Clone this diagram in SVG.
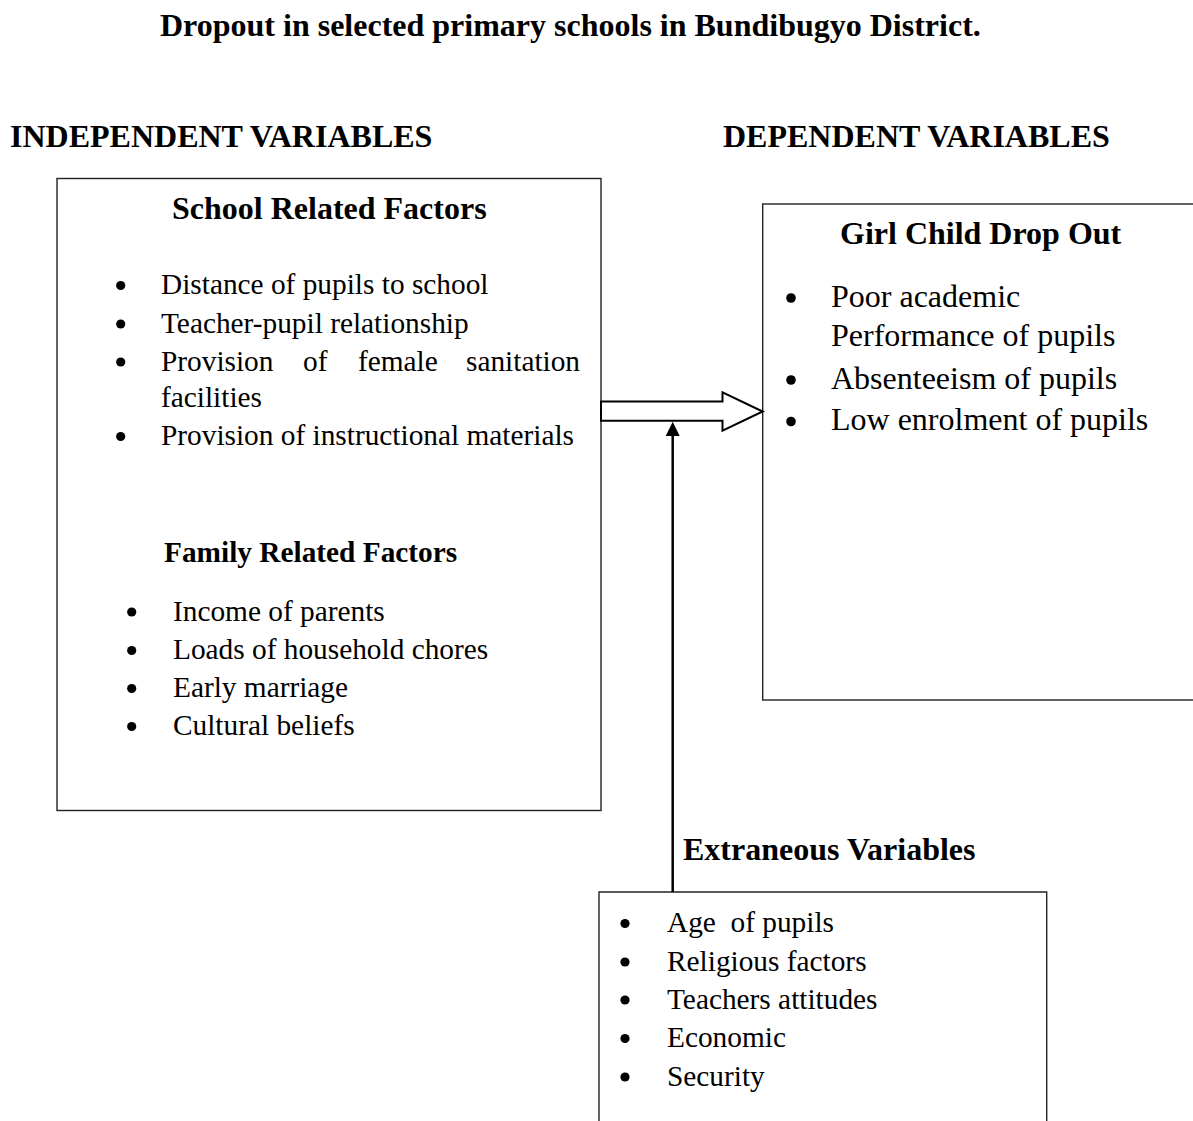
<svg xmlns="http://www.w3.org/2000/svg" width="1193" height="1121" viewBox="0 0 1193 1121">
<style>
text{font-family:"Liberation Serif","Times New Roman",serif;fill:#000}
.h{font-weight:bold;font-size:32px}
.h2{font-weight:bold;font-size:29.33px}
.li{font-size:29.33px}
.lg{font-size:32px}
.box{fill:#fff;stroke:#222;stroke-width:1.4}
.dot{fill:#000}
</style>
<rect width="1193" height="1121" fill="#fff"/>
<text class="h" x="160" y="36">Dropout in selected primary schools in Bundibugyo District.</text>
<text class="h" x="10" y="147">INDEPENDENT VARIABLES</text>
<text class="h" x="723" y="147">DEPENDENT VARIABLES</text>

<g id="independent">
<rect class="box" x="57" y="178.5" width="544" height="632"/>
<text class="h" x="172" y="219">School Related Factors</text>
<circle class="dot" cx="120.7" cy="285.5" r="4.6"/>
<text class="li" x="161" y="294">Distance of pupils to school</text>
<circle class="dot" cx="120.7" cy="324" r="4.6"/>
<text class="li" x="161" y="332.5">Teacher-pupil relationship</text>
<circle class="dot" cx="120.7" cy="362" r="4.6"/>
<text class="li" y="370.7"><tspan x="161">Provision</tspan><tspan x="303">of</tspan><tspan x="358">female</tspan><tspan x="466">sanitation</tspan></text>
<text class="li" x="161" y="406.7">facilities</text>
<circle class="dot" cx="120.7" cy="436.5" r="4.6"/>
<text class="li" x="161" y="445">Provision of instructional materials</text>
<text class="h2" x="164" y="562">Family Related Factors</text>
<circle class="dot" cx="131.7" cy="612" r="4.6"/>
<text class="li" x="173" y="620.5">Income of parents</text>
<circle class="dot" cx="131.7" cy="650.5" r="4.6"/>
<text class="li" x="173" y="659">Loads of household chores</text>
<circle class="dot" cx="131.7" cy="688.5" r="4.6"/>
<text class="li" x="173" y="697">Early marriage</text>
<circle class="dot" cx="131.7" cy="726.5" r="4.6"/>
<text class="li" x="173" y="735">Cultural beliefs</text>
</g>

<g id="dependent">
<rect class="box" x="762.7" y="204" width="450" height="496"/>
<text class="h" x="840" y="244">Girl Child Drop Out</text>
<circle class="dot" cx="791" cy="298" r="4.8"/>
<text class="lg" x="831" y="306.5">Poor academic</text>
<text class="lg" x="831" y="345.5">Performance of pupils</text>
<circle class="dot" cx="791" cy="380" r="4.8"/>
<text class="lg" x="831" y="388.5">Absenteeism of pupils</text>
<circle class="dot" cx="791" cy="421.5" r="4.8"/>
<text class="lg" x="831" y="430">Low enrolment of pupils</text>
</g>

<g id="extraneous">
<text class="h" x="683" y="860">Extraneous Variables</text>
<path class="box" d="M599,1125 V892 H1046.7 V1125"/>
<circle class="dot" cx="625" cy="923.5" r="4.6"/>
<text class="li" x="667" y="932">Age&#160; of pupils</text>
<circle class="dot" cx="625" cy="962" r="4.6"/>
<text class="li" x="667" y="970.5">Religious factors</text>
<circle class="dot" cx="625" cy="1000" r="4.6"/>
<text class="li" x="667" y="1008.5">Teachers attitudes</text>
<circle class="dot" cx="625" cy="1038.5" r="4.6"/>
<text class="li" x="667" y="1047">Economic</text>
<circle class="dot" cx="625" cy="1077" r="4.6"/>
<text class="li" x="667" y="1085.5">Security</text>
</g>

<g id="connectors">
<polygon points="601,401.5 722.5,401.5 722.5,392.3 762.7,411.5 722.5,430.7 722.5,420.7 601,420.7" fill="#fff" stroke="#000" stroke-width="2"/>
<line x1="672.7" y1="892" x2="672.7" y2="435" stroke="#000" stroke-width="2.5"/>
<polygon points="665.7,436 679.7,436 672.7,421.7" fill="#000"/>
</g>
</svg>
